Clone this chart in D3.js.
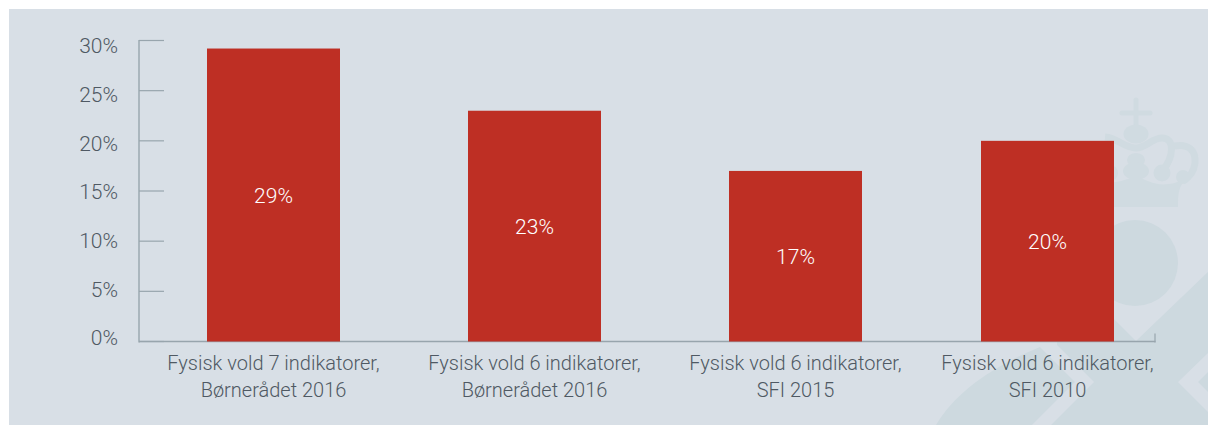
<!DOCTYPE html>
<html><head><meta charset="utf-8">
<script src="https://cdn.jsdelivr.net/npm/d3@7/dist/d3.min.js"></script>
<style>html,body{margin:0;padding:0;background:#fff}svg{display:block}text{font-family:Roboto,sans-serif;font-weight:300}</style>
</head><body><svg id="c" width="1208" height="425"></svg>
<script>
const categories=["Fysisk vold 7 indikatorer,|Børnerådet 2016","Fysisk vold 6 indikatorer,|Børnerådet 2016","Fysisk vold 6 indikatorer,|SFI 2015","Fysisk vold 6 indikatorer,|SFI 2010"];
const values=[29.2,23,17,20];
const valueLabels=["29%","23%","17%","20%"];
const yTicks=[0,5,10,15,20,25,30];
const svg=d3.select("#c");
const wm="#cdd9df",crown="#d0dbe1";
svg.append("rect").attr("x",9).attr("y",9).attr("width",1199).attr("height",416).attr("fill","#d8dfe6");
const W=svg.append("g").attr("fill",wm);
W.append("path").attr("d","M1136,341L1208,272V353L1178,382L1208,412V425H1051L1094,382L1057,345V330L1100,305Z");
W.append("path").attr("d","M1198,382L1208,372V392Z");
W.append("path").attr("d","M936,425C955,392 995,365 1040,347L1075,382L1032,425Z");
W.append("circle").attr("cx",1135).attr("cy",263).attr("r",43);
const C=svg.append("g").attr("fill",crown);
C.append("path").attr("fill","none").attr("stroke",crown).attr("stroke-linecap","round").attr("stroke-width",5).attr("d","M1136,100V130M1122,113H1150");
C.append("ellipse").attr("cx",1136).attr("cy",134).attr("rx",12.5).attr("ry",9.5);
C.append("ellipse").attr("cx",1136).attr("cy",160).attr("rx",9).attr("ry",7);
C.append("ellipse").attr("cx",1136).attr("cy",171).attr("rx",13).attr("ry",9);
C.append("circle").attr("cx",1162).attr("cy",173).attr("r",8.5);
C.append("circle").attr("cx",1183).attr("cy",177).attr("r",7);
C.append("circle").attr("cx",1110).attr("cy",173).attr("r",8);
C.append("path").attr("fill","none").attr("stroke",crown).attr("stroke-width",7).attr("d","M1136,148C1146,148 1152,138 1162,138C1176,138 1173,158 1163,170M1105,137C1118,138 1124,148 1136,148");
C.append("path").attr("fill","none").attr("stroke",crown).attr("stroke-width",7).attr("d","M1174,146C1190,143 1196,152 1195,163C1194,172 1190,177 1183,181");
C.append("path").attr("d","M1100,183C1115,184 1125,180 1136,176C1147,180 1155,186 1168,184C1175,184 1180,180 1186,180C1180,185 1178,190 1178,207H1100Z");
const y=d3.scaleLinear().domain([0,30]).range([341.5,40.5]);
const yLabel=d3.scaleLinear().domain([0,30]).range([338,46]);
const x=d3.scaleOrdinal().domain(categories).range([273.5,534.5,795.5,1047.5]);
const bw=133,axisC="#98a5ad",txt="#4f5963";
yTicks.forEach(t=>{
 svg.append("line").attr("x1",139).attr("x2",164).attr("y1",y(t)).attr("y2",y(t)).attr("stroke",axisC).attr("stroke-width",1.2);
 svg.append("text").attr("x",118).attr("y",yLabel(t)+7.3).attr("text-anchor","end").attr("font-size",21).attr("fill",txt).text(t+"%");
});
svg.append("line").attr("x1",139).attr("x2",139).attr("y1",y(30)-.5).attr("y2",y(0)+1).attr("stroke",axisC).attr("stroke-width",1.4);
svg.append("line").attr("x1",139).attr("x2",1155.5).attr("y1",y(0)).attr("y2",y(0)).attr("stroke",axisC).attr("stroke-width",1.6);
svg.append("line").attr("x1",1155).attr("x2",1155).attr("y1",y(0)-8).attr("y2",y(0)+1).attr("stroke",axisC).attr("stroke-width",1.2);
categories.forEach((c,i)=>{
 svg.append("rect").attr("x",x(c)-bw/2).attr("width",bw).attr("y",y(values[i])).attr("height",y(0)-y(values[i])).attr("fill","#be2f24");
 svg.append("text").attr("x",x(c)).attr("y",(y(values[i])+y(0))/2+7.5).attr("text-anchor","middle").attr("font-size",21).attr("fill","#fff").text(valueLabels[i]);
 c.split("|").forEach((l,j)=>svg.append("text").attr("x",x(c)).attr("y",370+j*27).attr("text-anchor","middle").attr("font-size",20).attr("fill",txt).text(l));
});
</script></body></html>
